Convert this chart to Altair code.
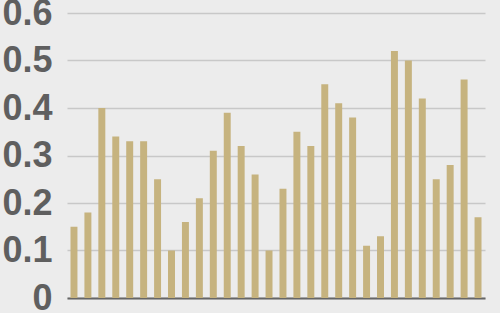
import altair as alt
import pandas as pd

categories = list(range(1, 31))
values = [0.15, 0.18, 0.40, 0.34, 0.33, 0.33, 0.25, 0.10, 0.16, 0.21,
          0.31, 0.39, 0.32, 0.26, 0.10, 0.23, 0.35, 0.32, 0.45, 0.41,
          0.38, 0.11, 0.13, 0.52, 0.50, 0.42, 0.25, 0.28, 0.46, 0.17]
y_ticks = [0, 0.1, 0.2, 0.3, 0.4, 0.5, 0.6]

df = pd.DataFrame({"cat": categories, "val": values})

chart = alt.Chart(df).mark_bar(color="#c6b37f").encode(
    x=alt.X("cat:O", sort=categories,
            scale=alt.Scale(paddingInner=0.5, paddingOuter=0.25),
            axis=alt.Axis(title=None, labels=False, ticks=False,
                          domainColor="#666666", domainWidth=2, grid=False)),
    y=alt.Y("val:Q", scale=alt.Scale(domain=[0, 0.6], nice=False),
            axis=alt.Axis(title=None, values=y_ticks, domain=False, ticks=False,
                          labelExpr="datum.value == 0 ? '0' : format(datum.value, '.1f')",
                          labelFont="Liberation Sans", labelFontSize=36,
                          labelFontWeight="bold", labelColor="#5f5f5f",
                          labelPadding=15, gridColor="#c8c8c8", gridWidth=1.5)),
).properties(
    width=418, height=285,
    autosize=alt.AutoSizeParams(type="none"),
    padding={"left": 67, "top": 13, "right": 15, "bottom": 15},
    background="#ececec",
).configure_view(stroke=None)

chart.save("out.html", embed_options={"renderer": "svg", "actions": False})
